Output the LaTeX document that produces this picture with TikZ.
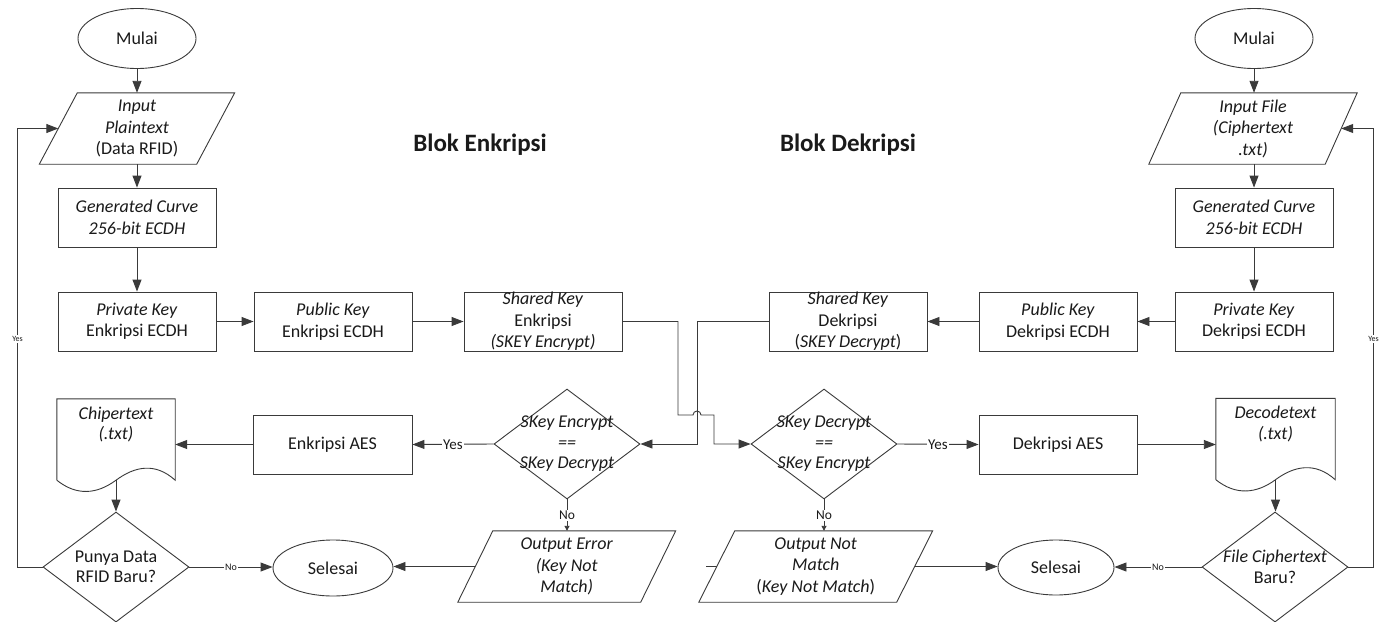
\documentclass[tikz,border=0pt]{standalone}
\usepackage{fontspec}
\setmainfont{Carlito}
\usetikzlibrary{shapes.geometric,arrows.meta,calc}
\definecolor{lc}{HTML}{3A3A3A}
\definecolor{tc}{HTML}{1A1A1A}
\newcommand\fsz{\fontsize{18}{21.5}\selectfont}
\newcommand\parashape[2]{\draw[ln] ($(#1.north west)+(#2,0)$) -- ($(#1.north east)+(#2,0)$) -- ($(#1.south east)+(-#2,0)$) -- ($(#1.south west)+(-#2,0)$) -- cycle;}
\newcommand\docshape[1]{\draw[ln] (#1.south west) -- (#1.north west) -- (#1.north east) -- (#1.south east) .. controls ($(#1.south east)+(-20,-18)$) and ($(#1.south)+(19,-14)$) .. (#1.south) .. controls ($(#1.south)+(-19,14)$) and ($(#1.south west)+(20,16)$) .. (#1.south west);}
\tikzset{
  ln/.style={draw=lc, line width=0.9pt},
  arr/.style={ln, -{Triangle[length=12pt,width=9pt]}},
  sarr/.style={ln, -{Triangle[length=5pt,width=5pt]}},
  box/.style={rectangle, ln, minimum width=158pt, minimum height=59pt, inner sep=0pt, align=center, font=\fsz, text=tc},
  ell/.style={ellipse, ln, minimum width=118pt, minimum height=60pt, inner sep=0pt, font=\fsz, text=tc},
  diam/.style={diamond, ln, minimum width=146pt, minimum height=110pt, inner sep=0pt},
  para/.style={rectangle, inner sep=0pt, minimum height=71pt, align=center, font=\fsz, text=tc},
  doc/.style={rectangle, inner sep=0pt, minimum width=118pt, minimum height=81pt},
  dtxt/.style={align=center, inner sep=0pt, text=tc, font=\fontsize{18}{20.5}\selectfont},
  lbl/.style={fill=white, inner sep=1pt, text=tc, font=\fontsize{15}{17}\selectfont},
  nlbl/.style={fill=white, inner sep=1pt, text=tc, font=\fontsize{13.5}{15}\selectfont},
  mlbl/.style={fill=white, inner sep=1pt, text=tc, font=\fontsize{10}{12}\selectfont},
  slbl/.style={fill=white, inner sep=1pt, text=tc, font=\fontsize{8}{10}\selectfont},
  ttl/.style={text=tc, font=\bfseries\fontsize{25}{30}\selectfont}
}
\begin{document}
\begin{tikzpicture}[x=1pt, y=-1pt]
\fill[white] (0,0) rectangle (1391,621);
\useasboundingbox (0,0) rectangle (1391,621);

% ---------- left column ----------
\node[ell] (m1) at (137,38.5) {Mulai};
\node[para, minimum width=157pt] (in1) at (137,128.5) {\textit{Input}\\\textit{Plaintext}\\(Data RFID)};
\parashape{in1}{19}
\node[box] (g1) at (137,217.5) {\textit{Generated Curve}\\\textit{256-bit ECDH}};
\node[box] (pk1) at (137,321.5) {\textit{Private Key}\\Enkripsi ECDH};
\node[box] (pub1) at (333,321.5) {\textit{Public Key}\\Enkripsi ECDH};
\node[box] (sk1) at (543,321.5) {\textit{Shared Key}\\Enkripsi\\\textit{(SKEY Encrypt)}};

% ---------- right column ----------
\node[ell] (m2) at (1254,38.5) {Mulai};
\node[para, minimum width=176pt] (in2) at (1253,128.5) {\textit{Input File}\\\textit{(Ciphertext}\\\textit{.txt)}};
\parashape{in2}{16}
\node[box] (g2) at (1254,217.5) {\textit{Generated Curve}\\\textit{256-bit ECDH}};
\node[box] (pk2) at (1254,321.5) {\textit{Private Key}\\Dekripsi ECDH};
\node[box] (pub2) at (1058,321.5) {\textit{Public Key}\\Dekripsi ECDH};
\node[box] (sk2) at (848,321.5) {\textit{Shared Key}\\Dekripsi\\(\textit{SKEY Decrypt})};

% ---------- titles ----------
\node[ttl] (t1) at (480,145) {Blok Enkripsi};
\node[ttl] (t2) at (848,145) {Blok Dekripsi};

% ---------- middle row ----------
\node[diam, label={[dtxt]center:{\textit{SKey Encrypt}\\\textit{==}\\\textit{SKey Decrypt}}}] (d1) at (567,444) {};
\node[diam, label={[dtxt]center:{\textit{SKey Decrypt}\\\textit{==}\\\textit{SKey Encrypt}}}] (d2) at (824,444) {};
\node[box, minimum width=159pt] (aes1) at (332.5,444.5) {Enkripsi AES};
\node[box] (aes2) at (1058,444.5) {Dekripsi AES};
\node[doc, label={[dtxt,yshift=15pt]center:{\textit{Chipertext}\\\textit{(.txt)}}}] (doc1) at (116,439.5) {};
\docshape{doc1}
\node[doc, minimum width=119pt, label={[dtxt,yshift=15pt]center:{\textit{Decodetext}\\\textit{(.txt)}}}] (doc2) at (1275.5,439) {};
\docshape{doc2}

% ---------- bottom row ----------
\node[diam, label={[dtxt]center:{Punya Data\\RFID Baru?}}] (q1) at (116,567) {};
\node[diam, label={[dtxt]center:{\textit{File Ciphertext}\\Baru?}}] (q2) at (1275,567) {};
\node[ell, minimum width=120pt, minimum height=56pt] (e1) at (333,568) {Selesai};
\node[ell, minimum width=116pt, minimum height=55pt] (e2) at (1056,567.5) {Selesai};
\node[para, minimum width=182.5pt] (oe) at (566.75,566.5) {\textit{Output Error}\\\textit{(Key Not}\\\textit{Match)}};
\parashape{oe}{17.5}
\node[para, minimum width=197.5pt] (on) at (815.75,566.5) {\textit{Output Not}\\\textit{Match}\\(\textit{Key Not Match})};
\parashape{on}{18}

% ---------- connectors ----------
\draw[arr] (m1.south) -- (in1.north);
\draw[arr] (in1.south) -- (g1.north);
\draw[arr] (g1.south) -- (pk1.north);
\draw[arr] (pk1.east) -- (pub1.west);
\draw[arr] (pub1.east) -- (sk1.west);

\draw[arr] (m2.south) -- (m2.south |- in2.north);
\draw[arr] (in2.south -| g2.north) -- (g2.north);
\draw[arr] (g2.south) -- (pk2.north);
\draw[arr] (pk2.west) -- (pub2.east);
\draw[arr] (pub2.west) -- (sk2.east);

\draw[arr] (sk1.east) -- (678,321.5) -- (678,415) -- (693,415) arc[start angle=180, end angle=0, radius=4pt] -- (714,415) -- (714,444) -- (d2.west);
\draw[arr] (sk2.west) -- (697,321.5) -- (697,444) -- (d1.east);

\draw[arr] (d1.west) -- node[lbl]{Yes} (aes1.east);
\draw[arr] (aes1.west) -- (aes1.west -| doc1.east);
\draw[arr] (doc1.south) -- (q1.north);
\draw[arr] (q1.west) -- ++(-25,0) |- node[slbl, pos=0.26]{Yes} (in1.west);
\draw[arr] (q1.east) -- node[mlbl]{No} (q1.east -| e1.west);
\draw[arr] (oe.west) -- (oe.west -| e1.east);
\draw[sarr] (d1.south) -- node[nlbl]{No} (d1.south |- oe.north);

\draw[arr] (d2.east) -- node[lbl]{Yes} (aes2.west);
\draw[arr] (aes2.east) -- (aes2.east -| doc2.west);
\draw[arr] (doc2.south) -- (doc2.south |- q2.north);
\draw[arr] (q2.west) -- node[mlbl]{No} (q2.west -| e2.east);
\draw[arr] (q2.east) -- ++(25,0) |- node[slbl, pos=0.26]{Yes} (in2.east);
\draw[sarr] (d2.south) -- node[nlbl]{No} (d2.south |- on.north);
\draw[arr] (on.east) -- (on.east -| e2.west);
\draw[ln] (on.west) -- ++(-11,0);
\end{tikzpicture}
\end{document}
